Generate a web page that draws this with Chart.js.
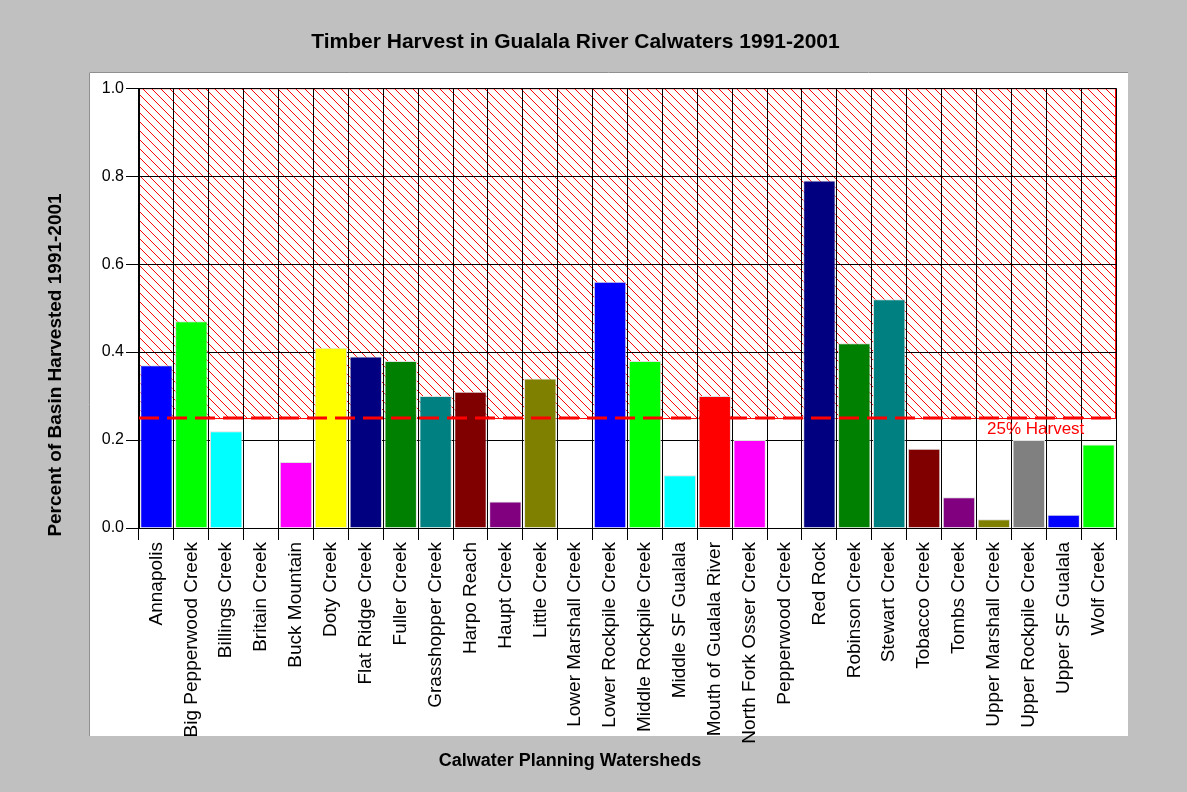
<!DOCTYPE html>
<html>
<head>
<meta charset="utf-8">
<script src="https://cdn.jsdelivr.net/npm/chart.js@4.4.1/dist/chart.umd.min.js"></script>
<style>
  html, body { margin: 0; padding: 0; background: #c0c0c0; }
  canvas { display: block; }
</style>
</head>
<body>
<canvas id="chart" width="1187" height="792"></canvas>
<script>
// Data
const watersheds = [
  'Annapolis', 'Big Pepperwood Creek', 'Billings Creek', 'Britain Creek', 'Buck Mountain',
  'Doty Creek', 'Flat Ridge Creek', 'Fuller Creek', 'Grasshopper Creek', 'Harpo Reach',
  'Haupt Creek', 'Little Creek', 'Lower Marshall Creek', 'Lower Rockpile Creek',
  'Middle Rockpile Creek', 'Middle SF Gualala', 'Mouth of Gualala River', 'North Fork Osser Creek',
  'Pepperwood Creek', 'Red Rock', 'Robinson Creek', 'Stewart Creek', 'Tobacco Creek',
  'Tombs Creek', 'Upper Marshall Creek', 'Upper Rockpile Creek', 'Upper SF Gualala', 'Wolf Creek'
];
const harvested = [
  0.37, 0.47, 0.22, 0, 0.15,
  0.41, 0.39, 0.38, 0.30, 0.31,
  0.06, 0.34, 0, 0.56,
  0.38, 0.12, 0.30, 0.20,
  0, 0.79, 0.42, 0.52, 0.18,
  0.07, 0.02, 0.20, 0.03, 0.19
];
const palette = ['#0000ff', '#00ff00', '#00ffff', '#ff0000', '#ff00ff', '#ffff00', '#000080',
  '#008000', '#008080', '#800000', '#800080', '#808000', '#808080'];
const yTicks = [0, 0.2, 0.4, 0.6, 0.8, 1.0];
const harvestLimit = 0.25;
const limitLabel = '25% Harvest';

const FONT = '"Liberation Sans", Arial, sans-serif';

// white panel + red hatched zone above the 25% limit (under the grid)
const backdrop = {
  id: 'backdrop',
  beforeDraw(chart) {
    const { ctx, chartArea: a, scales: { y } } = chart;
    ctx.save();
    ctx.fillStyle = '#ffffff';
    ctx.fillRect(89, 72, 1039, 664);
    ctx.strokeStyle = '#909090';
    ctx.lineWidth = 1;
    ctx.beginPath();
    ctx.moveTo(89.5, 736); ctx.lineTo(89.5, 72.5); ctx.lineTo(1128, 72.5);
    ctx.stroke();

    const top = y.getPixelForValue(yTicks[yTicks.length - 1]);
    const bot = y.getPixelForValue(harvestLimit);
    const h = bot - top;
    ctx.save();
    ctx.beginPath();
    ctx.rect(a.left, top, a.right - a.left, h);
    ctx.clip();
    ctx.strokeStyle = '#ff0000';
    ctx.lineWidth = 1;
    ctx.beginPath();
    for (let x = a.left - h; x < a.right; x += 9) {
      ctx.moveTo(x, top);
      ctx.lineTo(x + h, bot);
    }
    ctx.stroke();
    ctx.restore();
    ctx.strokeStyle = '#ff0000';
    ctx.strokeRect(a.left + 0.5, top + 0.5, a.right - a.left - 1, h);
    ctx.restore();
  },
  afterDatasetsDraw(chart) {
    const { ctx, chartArea: a, scales: { y } } = chart;
    const yy = y.getPixelForValue(harvestLimit);
    ctx.save();
    ctx.strokeStyle = '#ff0000';
    ctx.lineWidth = 3;
    ctx.setLineDash([20, 8]);
    ctx.beginPath();
    ctx.moveTo(a.left, yy);
    ctx.lineTo(a.right, yy);
    ctx.stroke();
    ctx.fillStyle = '#ff0000';
    ctx.font = '17px ' + FONT;
    ctx.textBaseline = 'middle';
    ctx.fillText(limitLabel, 987, yy + 11);
    ctx.restore();
  },
  afterDraw(chart) {
    const { ctx } = chart;
    ctx.save();
    ctx.fillStyle = '#000';
    ctx.textAlign = 'center';
    ctx.textBaseline = 'middle';
    ctx.font = 'bold 18px ' + FONT;
    ctx.fillText('Calwater Planning Watersheds', 570, 761);
    ctx.translate(56, 365);
    ctx.rotate(-Math.PI / 2);
    ctx.font = 'bold 19px ' + FONT;
    ctx.fillText('Percent of Basin Harvested 1991-2001', 0, 0);
    ctx.restore();
  }
};

new Chart(document.getElementById('chart'), {
  type: 'bar',
  data: {
    labels: watersheds,
    datasets: [{
      data: harvested,
      backgroundColor: watersheds.map((w, i) => palette[i % palette.length]),
      borderColor: '#e0e0e0',
      borderWidth: 1,
      barPercentage: 0.93,
      categoryPercentage: 1
    }]
  },
  options: {
    responsive: false,
    animation: false,
    layout: { padding: { left: 35, right: 71, top: 0, bottom: 0 } },
    plugins: {
      legend: { display: false },
      tooltip: { enabled: false },
      title: {
        display: true,
        text: 'Timber Harvest in Gualala River Calwaters 1991-2001',
        color: '#000',
        font: { family: FONT, size: 21, weight: 'bold' },
        padding: { top: 30, bottom: 33 }
      }
    },
    scales: {
      x: {
        grid: { color: '#000', tickLength: 12, offset: true },
        border: { color: '#000' },
        ticks: {
          color: '#000',
          font: { family: FONT, size: 19 },
          minRotation: 90,
          maxRotation: 90,
          autoSkip: false,
          padding: 2
        },
        afterFit(s) { s.height = 264; }
      },
      y: {
        min: 0,
        max: 1,
        grid: { color: '#000', tickLength: 13 },
        border: { color: '#000' },
        ticks: {
          color: '#000',
          font: { family: FONT, size: 16 },
          padding: 2,
          callback: v => Number(v).toFixed(1)
        },
        afterBuildTicks(s) { s.ticks = yTicks.map(v => ({ value: v })); },
        afterFit(s) { s.width = 104; }
      }
    }
  },
  plugins: [backdrop]
});
</script>
</body>
</html>
